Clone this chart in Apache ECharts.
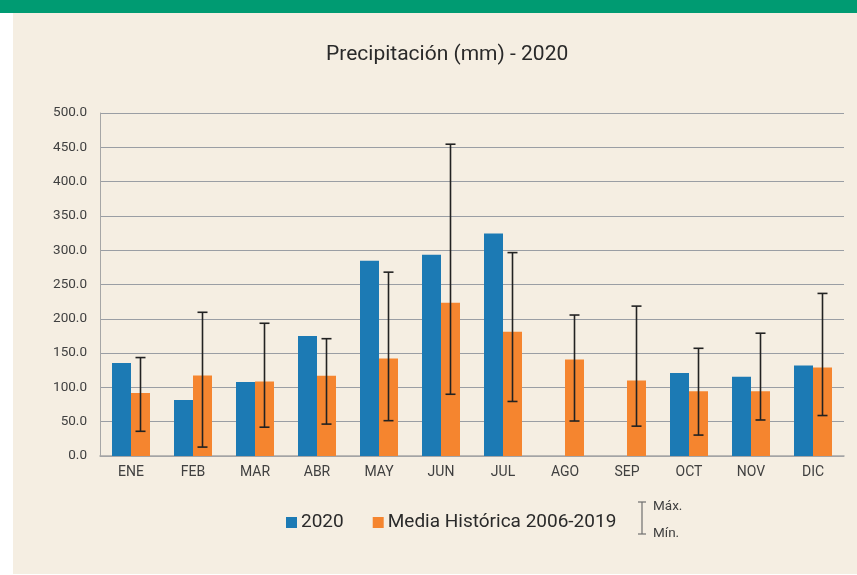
<!DOCTYPE html>
<html>
<head>
<meta charset="utf-8">
<script src="https://cdn.jsdelivr.net/npm/echarts@6/dist/echarts.min.js"></script>
<style>
  html, body { margin: 0; padding: 0; background: #ffffff; }
  #chart { width: 857px; height: 575px; }
</style>
</head>
<body>
<div id="chart"></div>
<script>
// Monthly precipitation (mm)
const months = ['ENE', 'FEB', 'MAR', 'ABR', 'MAY', 'JUN', 'JUL', 'AGO', 'SEP', 'OCT', 'NOV', 'DIC'];
const rain2020 = [135.5, 81.5, 108.0, 175.0, 284.5, 293.5, 324.5, null, null, 121.0, 115.5, 132.0];
const histMean = [92.0, 117.5, 108.5, 117.0, 142.0, 223.5, 181.0, 140.5, 110.0, 94.5, 94.5, 129.0];
const histMax = [143.5, 209.5, 193.5, 171.0, 268.0, 454.5, 296.5, 205.5, 218.5, 157.0, 179.0, 237.0];
const histMin = [36.0, 13.0, 42.0, 46.5, 51.5, 90.0, 79.5, 51.0, 43.5, 30.5, 52.5, 59.0];
const yTicks = { min: 0, max: 500, interval: 50 };

const BAR_W = 19;
const FONT = 'Roboto, "Liberation Sans", sans-serif';

const rangeData = months.map((m, i) => [i, histMin[i], histMax[i]]);

const chart = echarts.init(document.getElementById('chart'));
chart.setOption({
  backgroundColor: '#ffffff',
  animation: false,
  textStyle: { fontFamily: FONT },
  graphic: [
    { type: 'rect', z: -10, shape: { x: 0, y: 0, width: 857, height: 13 }, style: { fill: '#009b72' } },
    { type: 'rect', z: -10, shape: { x: 13, y: 13, width: 844, height: 561 }, style: { fill: '#f5eee2' } },
    // range key
    { type: 'line', shape: { x1: 642, y1: 502, x2: 642, y2: 534 }, style: { stroke: '#6f6f6f', lineWidth: 1.2 } },
    { type: 'line', shape: { x1: 638, y1: 502, x2: 646, y2: 502 }, style: { stroke: '#6f6f6f', lineWidth: 1.2 } },
    { type: 'line', shape: { x1: 638, y1: 534, x2: 646, y2: 534 }, style: { stroke: '#6f6f6f', lineWidth: 1.2 } },
    { type: 'text', x: 653, y: 507, style: { text: 'Máx.', fill: '#404040', fontSize: 13.5, fontFamily: FONT, verticalAlign: 'middle' } },
    { type: 'text', x: 653, y: 534, style: { text: 'Mín.', fill: '#404040', fontSize: 13.5, fontFamily: FONT, verticalAlign: 'middle' } }
  ],
  title: {
    text: 'Precipitación (mm) - 2020',
    left: 321,
    top: 39,
    textStyle: { fontSize: 21, fontWeight: 'normal', color: '#2a2a2a', fontFamily: FONT }
  },
  legend: {
    left: 281,
    top: 508,
    itemWidth: 11,
    itemHeight: 11,
    itemGap: 29,
    icon: 'rect',
    textStyle: { fontSize: 19, color: '#2a2a2a', fontFamily: FONT, padding: [0, 0, 0, -1] },
    data: ['2020', 'Media Histórica 2006-2019']
  },
  grid: { left: 100, right: 13, top: 113, bottom: 119 },
  xAxis: {
    type: 'category',
    data: months,
    axisLine: { lineStyle: { color: '#a6a6a6', width: 1.5 } },
    axisTick: { show: false },
    axisLabel: { color: '#404040', fontSize: 14, margin: 9 }
  },
  yAxis: {
    type: 'value',
    min: yTicks.min,
    max: yTicks.max,
    interval: yTicks.interval,
    axisLine: { show: true, lineStyle: { color: '#a6a6a6', width: 1 } },
    axisTick: { show: false },
    splitLine: { lineStyle: { color: '#9a9ea4', width: 1.2 } },
    axisLabel: { color: '#404040', fontSize: 13.5, margin: 13, formatter: v => v.toFixed(1) }
  },
  series: [
    {
      name: '2020',
      type: 'bar',
      data: rain2020,
      barWidth: BAR_W,
      barGap: '0%',
      itemStyle: { color: '#1c7ab4' }
    },
    {
      name: 'Media Histórica 2006-2019',
      type: 'bar',
      data: histMean,
      barWidth: BAR_W,
      barGap: '0%',
      itemStyle: { color: '#f5852f' }
    },
    {
      name: 'range',
      type: 'custom',
      data: rangeData,
      z: 10,
      renderItem: function (params, api) {
        const i = api.value(0);
        const lo = api.coord([i, api.value(1)]);
        const hi = api.coord([i, api.value(2)]);
        const x = lo[0] + BAR_W / 2;
        const cap = 5;
        const st = { stroke: '#222222', lineWidth: 1.6 };
        return {
          type: 'group',
          children: [
            { type: 'line', shape: { x1: x, y1: hi[1], x2: x, y2: lo[1] }, style: st },
            { type: 'line', shape: { x1: x - cap, y1: hi[1], x2: x + cap, y2: hi[1] }, style: st },
            { type: 'line', shape: { x1: x - cap, y1: lo[1], x2: x + cap, y2: lo[1] }, style: st }
          ]
        };
      }
    }
  ]
});
</script>
</body>
</html>
